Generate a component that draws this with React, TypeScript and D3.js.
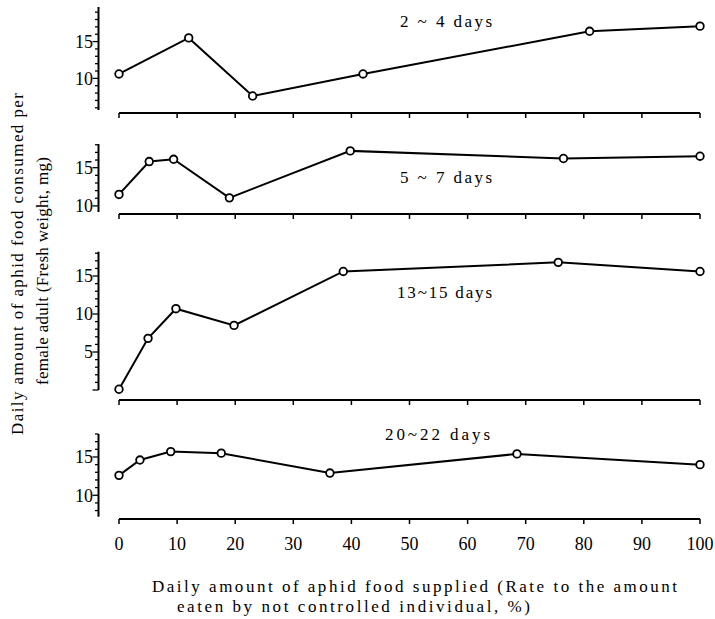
import React from "react";
import * as d3 from "d3";

// Percentage of the normal ration supplied (x) and daily consumption (mg) per female adult
const xTicks = [0, 10, 20, 30, 40, 50, 60, 70, 80, 90, 100];

const days2to4X = [0, 12, 23, 42, 81, 100];
const days2to4Y = [10.6, 15.5, 7.6, 10.6, 16.4, 17.1];

const days5to7X = [0, 5.2, 9.4, 19, 39.8, 76.5, 100];
const days5to7Y = [11.5, 15.8, 16.1, 11.05, 17.2, 16.2, 16.5];

const days13to15X = [0, 5, 9.8, 19.8, 38.6, 75.6, 100];
const days13to15Y = [0.1, 6.8, 10.7, 8.5, 15.6, 16.8, 15.6];

const days20to22X = [0, 3.6, 8.9, 17.6, 36.3, 68.5, 100];
const days20to22Y = [12.6, 14.6, 15.7, 15.5, 12.9, 15.4, 14.0];

const panelLabels = ["2 ~ 4 days", "5 ~ 7 days", "13~15 days", "20~22 days"];

const xTitle1 = "Daily amount of aphid food supplied (Rate to the amount";
const xTitle2 = "eaten by not controlled individual, %)";
const yTitle1 = "Daily amount of aphid food consumed per";
const yTitle2 = "female adult (Fresh weight, mg)";

const FONT = "Liberation Serif, DejaVu Serif, Times New Roman, serif";

type Panel = {
  xs: number[];
  ys: number[];
  label: string;
  domain: [number, number];
  range: [number, number];
  base: number;
  labelX: number;
  labelY: number;
  labelW: number;
};

const panels: Panel[] = [
  { xs: days2to4X, ys: days2to4Y, label: panelLabels[0], domain: [5.7, 19.7], range: [110, 7], base: 113, labelX: 400, labelY: 27, labelW: 92 },
  { xs: days5to7X, ys: days5to7Y, label: panelLabels[1], domain: [9.2, 18.1], range: [212, 144], base: 214, labelX: 400, labelY: 183, labelW: 92 },
  { xs: days13to15X, ys: days13to15Y, label: panelLabels[2], domain: [0, 18.2], range: [390, 251.7], base: 400, labelX: 397, labelY: 298, labelW: 95 },
  { xs: days20to22X, ys: days20to22Y, label: panelLabels[3], domain: [7.2, 18], range: [516.7, 434], base: 519, labelX: 385, labelY: 440, labelW: 105 },
];

const AXIS_X = 98.5;
const textStyle = { fontFamily: FONT };

export default function App() {
  const x = d3.scaleLinear().domain([0, 100]).range([119, 700]);

  return (
    <svg
      width={715}
      height={619}
      style={{ position: "absolute", left: 0, top: 0, background: "#fff", fontFamily: FONT }}
    >
      <rect width={715} height={619} fill="#fff" />
      {panels.map((p, pi) => {
        const y = d3.scaleLinear().domain(p.domain).range(p.range);
        const ticks = d3.range(Math.ceil(p.domain[0]), Math.floor(p.domain[1]) + 1);
        const line = d3
          .line<number>()
          .x((_, i) => x(p.xs[i]))
          .y((v) => y(v));
        return (
          <g key={pi}>
            {/* vertical axis with unit ticks, labelled every 5 */}
            <line x1={AXIS_X} x2={AXIS_X} y1={p.range[1]} y2={p.range[0]} stroke="#000" strokeWidth={2} />
            {ticks.map((t) => {
              const major = t % 5 === 0;
              return (
                <g key={t}>
                  <line
                    x1={AXIS_X - (major ? 6 : 3.5)}
                    x2={AXIS_X}
                    y1={y(t)}
                    y2={y(t)}
                    stroke="#000"
                    strokeWidth={1.3}
                  />
                  {major && t > 0 && (
                    <text x={93} y={y(t)} dy="0.36em" textAnchor="end" fontSize={18} style={textStyle}>
                      {t}
                    </text>
                  )}
                </g>
              );
            })}
            {/* horizontal baseline with ticks every 10 */}
            <line x1={x(0)} x2={x(100)} y1={p.base} y2={p.base} stroke="#000" strokeWidth={2} />
            {xTicks.map((t) => (
              <line key={t} x1={x(t)} x2={x(t)} y1={p.base} y2={p.base + 5} stroke="#000" strokeWidth={1.5} />
            ))}
            <path d={line(p.ys) || ""} fill="none" stroke="#000" strokeWidth={2} />
            {p.ys.map((v, i) => (
              <circle key={i} cx={x(p.xs[i])} cy={y(v)} r={3.8} fill="#fff" stroke="#000" strokeWidth={1.8} />
            ))}
            <text
              x={p.labelX}
              y={p.labelY}
              fontSize={17}
              textLength={p.labelW}
              lengthAdjust="spacing"
              style={textStyle}
            >
              {p.label}
            </text>
          </g>
        );
      })}
      {xTicks.map((t) => (
        <text key={t} x={x(t)} y={550} textAnchor="middle" fontSize={18} style={textStyle}>
          {t}
        </text>
      ))}
      <text x={152} y={592} fontSize={17} textLength={525} lengthAdjust="spacing" style={textStyle}>
        {xTitle1}
      </text>
      <text x={177} y={612} fontSize={17} textLength={353} lengthAdjust="spacing" style={textStyle}>
        {xTitle2}
      </text>
      <text
        transform="translate(23,435) rotate(-90)"
        fontSize={17}
        textLength={342}
        lengthAdjust="spacing"
        style={textStyle}
      >
        {yTitle1}
      </text>
      <text
        transform="translate(48,385) rotate(-90)"
        fontSize={17}
        textLength={228}
        lengthAdjust="spacing"
        style={textStyle}
      >
        {yTitle2}
      </text>
    </svg>
  );
}
